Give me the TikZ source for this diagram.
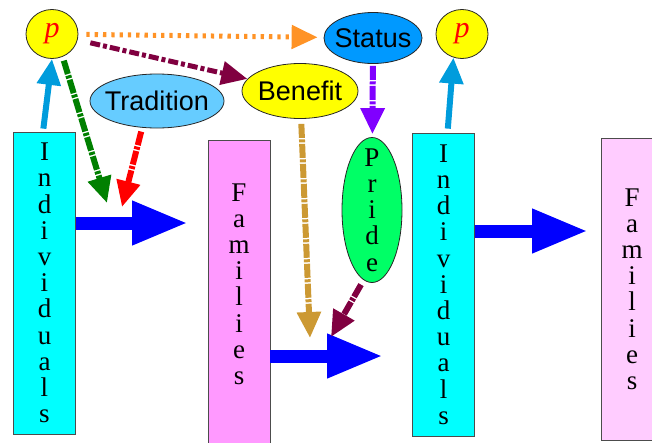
\documentclass[tikz,border=0pt]{standalone}
\usepackage{fontspec}
\setmainfont{Liberation Serif}
\setsansfont{Liberation Sans}
\usepackage{tikz}
\usetikzlibrary{arrows.meta}
\usetikzlibrary{shapes.geometric}
\definecolor{indcyan}{RGB}{0,255,255}
\definecolor{fampink}{RGB}{255,153,255}
\definecolor{famlight}{RGB}{255,204,255}
\definecolor{pridegreen}{RGB}{0,255,102}
\definecolor{statusblue}{RGB}{0,153,255}
\definecolor{tradblue}{RGB}{102,204,255}
\definecolor{pyellow}{RGB}{255,255,0}
\definecolor{flowblue}{RGB}{0,0,255}
\definecolor{upcyan}{RGB}{0,156,220}
\definecolor{dotorange}{RGB}{255,147,38}
\definecolor{maroon}{RGB}{128,0,64}
\definecolor{darkgreen}{RGB}{0,128,0}
\definecolor{violet}{RGB}{128,0,255}
\definecolor{gold}{RGB}{204,153,51}

\begin{document}
\begin{tikzpicture}[x=1pt, y=-1pt,
    column/.style={rectangle, draw=black!70, line width=0.8pt, minimum width=62pt, inner sep=2pt,
      align=center, font=\fontsize{27}{26.2}\selectfont},
    bubble/.style={ellipse, draw=black!85, line width=0.8pt, inner sep=-8pt,
      font=\sffamily\fontsize{27}{30}\selectfont},
    pbubble/.style={bubble, fill=pyellow, minimum width=52pt, minimum height=49pt,
      font=\fontsize{30}{30}\selectfont\itshape, text=red},
    flow/.style={flowblue, line width=13pt, -{Triangle[length=56pt,width=41pt]}},
    link/.style={line width=6pt, -{Triangle[length=26pt,width=23pt]}},
    dashdots/.style={dash pattern=on 14pt off 1.5pt on 3pt off 1.5pt},
  ]
    \useasboundingbox (0,0) rectangle (652,442);

    \node (ind1) [column, fill=indcyan, minimum height=302pt] at (44.5,283) {I\\n\\d\\i\\v\\i\\d\\u\\a\\l\\s};
    \node (fam1) [column, fill=fampink, minimum height=304pt] at (239,292) {F\\a\\m\\i\\l\\i\\e\\s\\[-10pt]\mbox{}}; % text sits a bit high
    \node (ind2) [column, fill=indcyan, minimum height=303pt] at (443.5,284.5) {I\\n\\d\\i\\v\\i\\d\\u\\a\\l\\s};
    \node (fam2) [column, fill=famlight, minimum height=302pt] at (632,289) {F\\a\\m\\i\\l\\i\\e\\s};

    \node (p1) [pbubble] at (52,34) {p};
    \node (p2) [pbubble] at (462,34) {p};
    \node (status) [bubble, fill=statusblue, minimum width=98pt, minimum height=51pt] at (373,38) {Status};
    \node (benefit) [bubble, fill=pyellow, minimum width=116pt, minimum height=55pt] at (300,91) {Benefit};
    \node (trad) [bubble, fill=tradblue, minimum width=134pt, minimum height=54pt] at (157,101) {Tradition};
    \node (pride) [bubble, fill=pridegreen, minimum width=60pt, minimum height=145pt, inner ysep=-26pt,
      align=center, font=\fontsize{27}{26.2}\selectfont] at (372,210) {P\\r\\i\\d\\e};

    \coordinate (b1) at (188,223);
    \coordinate (b2) at (383,356);
    \coordinate (b3) at (588,231);
    \coordinate (gtip) at (107,203);
    \coordinate (rtip) at (122,207);
    \coordinate (gdtip) at (310,338);
    \coordinate (mtip) at (331,337);

    \draw [flow] (ind1.east |- b1) -- (b1);
    \draw [flow] (fam1.east |- b2) -- (b2);
    \draw [flow] (ind2.east |- b3) -- (b3);

    \draw [link, upcyan, shorten <=3pt] ([xshift=-1.5pt]ind1.north) -- (p1.south);
    \draw [link, upcyan, shorten <=4pt] ([xshift=4pt]ind2.north) -- (p2.250);
    \draw [link, dotorange, line width=5pt, dash pattern=on 3.3pt off 5pt, shorten <=8pt, shorten >=6pt] (p1) -- (status);
    \draw [link, maroon, line width=5pt, dash pattern=on 10pt off 3pt on 4pt off 3pt, shorten <=13pt] (p1) -- (benefit);
    \draw [link, darkgreen, dashdots, shorten <=4pt] (p1.-65) -- (gtip);
    \draw [link, red, dashdots, shorten <=4pt] (trad.241) -- (rtip);
    \draw [link, violet, dashdots, shorten <=2pt, shorten >=3pt] (status) -- (pride);
    \draw [link, gold, dashdots, shorten <=5pt] (benefit) -- (gdtip);
    \draw [link, maroon, dashdots, shorten <=2pt] ([xshift=-10pt]pride.south) -- (mtip);
  \end{tikzpicture}
\end{document}
